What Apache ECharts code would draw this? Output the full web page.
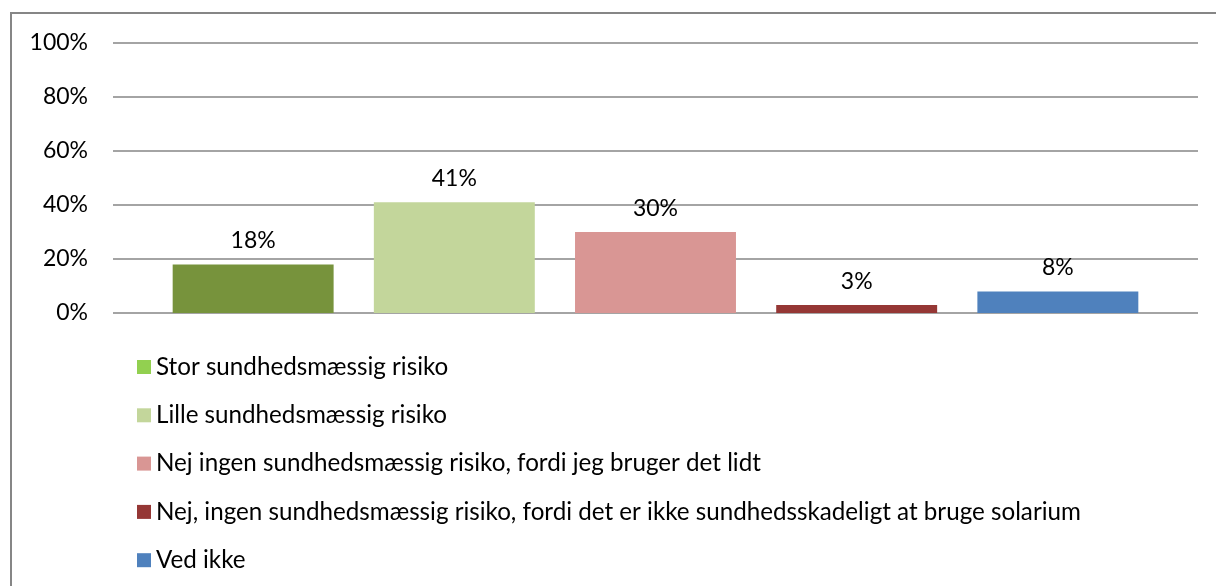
<!DOCTYPE html>
<html>
<head>
<meta charset="utf-8">
<script src="https://cdn.jsdelivr.net/npm/echarts@6/dist/echarts.min.js"></script>
<style>
  html, body { margin: 0; padding: 0; background: #fff; }
  #chart { width: 1216px; height: 586px; }
</style>
</head>
<body>
<div id="chart"></div>
<script>
const categories = [""];
const seriesNames = [
  "Stor sundhedsmæssig risiko",
  "Lille sundhedsmæssig risiko",
  "Nej ingen sundhedsmæssig risiko, fordi jeg bruger det lidt",
  "Nej, ingen sundhedsmæssig risiko, fordi det er ikke sundhedsskadeligt at bruge solarium",
  "Ved ikke",
];
const seriesValues = [18, 41, 30, 3, 8];
const barColors = ["#77933C", "#C3D69B", "#D99694", "#953735", "#4F81BD"];
const legendColors = ["#92D050", "#C3D69B", "#D99694", "#953735", "#4F81BD"];
const yTicks = [0, 20, 40, 60, 80, 100];

const font = "Lato";

const chart = echarts.init(document.getElementById("chart"));
chart.setOption({
  animation: false,
  textStyle: { fontFamily: font },
  graphic: [
    {
      type: "rect",
      shape: { x: 11, y: 13, width: 1400, height: 800 },
      style: { fill: "none", stroke: "#868686", lineWidth: 2 },
    },
  ],
  grid: { left: 113, right: 18, top: 43, bottom: 273 },
  legend: {
    orient: "vertical",
    left: 132,
    top: 350,
    itemWidth: 14,
    itemHeight: 14,
    itemGap: 24.3,
    icon: "rect",
    textStyle: { fontSize: 24.2, lineHeight: 24, color: "#000", fontFamily: font },
    data: seriesNames.map((n, i) => ({ name: n, itemStyle: { color: legendColors[i] } })),
  },
  xAxis: {
    type: "category",
    data: categories,
    axisLine: { show: false },
    axisTick: { show: false },
    axisLabel: { show: false },
  },
  yAxis: {
    type: "value",
    min: yTicks[0],
    max: yTicks[yTicks.length - 1],
    interval: 20,
    axisLine: { show: false },
    axisTick: { show: false },
    axisLabel: {
      formatter: "{value}%",
      fontSize: 23,
      color: "#000",
      margin: 25,
      fontFamily: font,
    },
    splitLine: { lineStyle: { color: "#868686", width: 1.5 } },
  },
  series: seriesNames.map((n, i) => ({
    name: n,
    type: "bar",
    data: [seriesValues[i]],
    barGap: "25%",
    barCategoryGap: "11%",
    itemStyle: { color: barColors[i] },
    label: {
      show: true,
      position: "top",
      distance: 12,
      formatter: "{c}%",
      fontSize: 23,
      color: "#000",
      fontFamily: font,
    },
  })),
});
</script>
</body>
</html>
